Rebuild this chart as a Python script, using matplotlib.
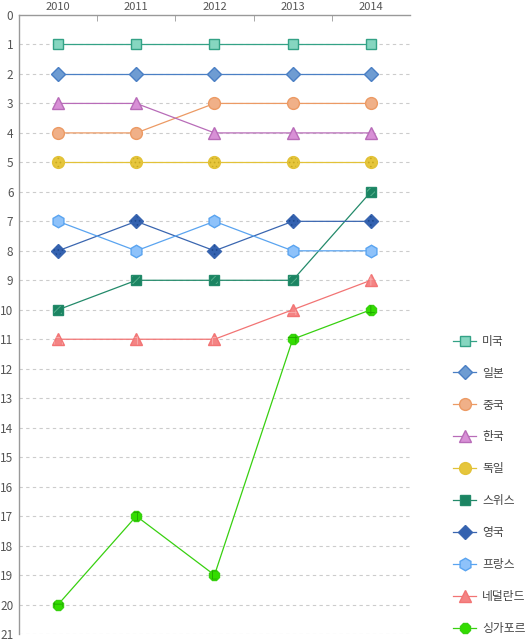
import matplotlib.pyplot as plt

plt.rcParams['font.family'] = ['Noto Sans CJK KR', 'DejaVu Sans']
plt.rcParams['hatch.linewidth'] = 0.7

years = [2010, 2011, 2012, 2013, 2014]
countries = ['미국', '일본', '중국', '한국', '독일', '스위스', '영국', '프랑스', '네덜란드', '싱가포르']
usa = [1, 1, 1, 1, 1]
japan = [2, 2, 2, 2, 2]
china = [4, 4, 3, 3, 3]
korea = [3, 3, 4, 4, 4]
germany = [5, 5, 5, 5, 5]
swiss = [10, 9, 9, 9, 6]
uk = [8, 7, 8, 7, 7]
france = [7, 8, 7, 8, 8]
netherlands = [11, 11, 11, 10, 9]
singapore = [20, 17, 19, 11, 10]
ranks = [usa, japan, china, korea, germany, swiss, uk, france, netherlands, singapore]

# (marker, size, fill, edge/line, hatch, hatch colour)
styles = [
    ('s', 6.5, '#86d6c0', '#34a286', None, None),
    ('D', 7, '#6e9cd2', '#4a7fc4', None, None),
    ('o', 8.5, '#f0b088', '#ec9a64', None, None),
    ('^', 9, '#d890d6', '#b86cb8', None, None),
    ('o', 8.5, '#e6c63c', '#e2c238', '....', '#c8a820'),
    ('s', 6.5, '#1b8462', '#238a6a', '////', '#55b08c'),
    ('D', 7, '#3462b0', '#3a66b0', '....', '#1e4a90'),
    ('h', 9, '#8ec2fa', '#5aa4f0', None, None),
    ('^', 9, '#f48484', '#f27474', '++', '#f8aaaa'),
    ('8', 8.5, '#33dd00', '#38d010', '++', '#22aa00'),
]

fig = plt.figure(figsize=(5.25, 6.39), dpi=100)
ax = fig.add_axes([19 / 525, 1 - 634 / 639, (410 - 19) / 525, (634 - 15) / 639])

handles = []
for name, vals, (mk, ms, fc, ec, hatch, hc) in zip(countries, ranks, styles):
    line, = ax.plot(years, vals, color=ec, lw=0.9, marker=mk, ms=ms,
                    mfc=fc, mec=ec, mew=1, label=name, zorder=3)
    if hatch:
        ax.scatter(years, vals, s=(ms * 0.85) ** 2, marker=mk, facecolor='none',
                   edgecolor=hc, hatch=hatch, lw=0, zorder=4)
    handles.append(line)

ax.set_xlim(2009.5, 2014.5)
ax.set_ylim(21, 0)
ax.set_yticks(range(0, 22))
ax.set_xticks(years)
ax.set_xticks([2010.5, 2011.5, 2012.5, 2013.5], minor=True)
ax.xaxis.tick_top()
ax.tick_params(axis='x', which='major', length=0, pad=2, labelsize=8, labelcolor='#555555')
ax.tick_params(axis='x', which='minor', length=4, direction='in', color='#999999', top=True, bottom=False)
ax.tick_params(axis='y', length=0, pad=4, labelsize=8.5, labelcolor='#555555')

for y in range(1, 22):
    ax.axhline(y, color='#cccccc', lw=0.8, ls=(0, (3, 3)), zorder=1)

for side in ['right', 'bottom']:
    ax.spines[side].set_visible(False)
for side in ['left', 'top']:
    ax.spines[side].set_color('#999999')
    ax.spines[side].set_linewidth(1)

fig.legend(handles=handles, loc='upper left', bbox_to_anchor=(448 / 525, 1 - 330 / 639),
           frameon=False, fontsize=8.5, handlelength=2.0, handletextpad=0.5,
           labelspacing=1.6, borderaxespad=0, labelcolor='#444444')

fig.savefig('out.png', dpi=100)
